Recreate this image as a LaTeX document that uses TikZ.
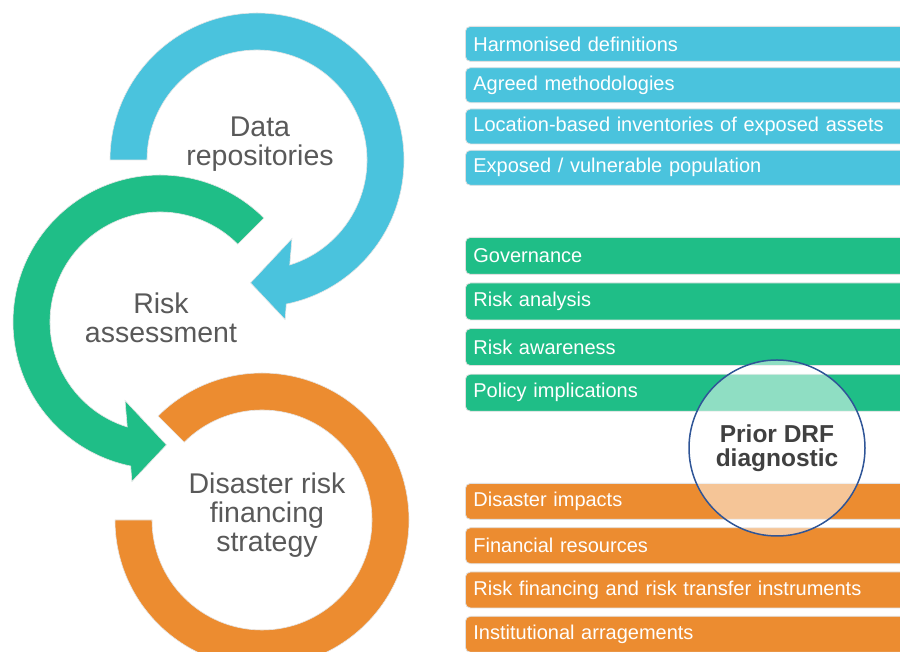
\documentclass[tikz,border=0pt]{standalone}
\usepackage{fontspec}
\setmainfont{Liberation Sans}
\usepackage{tikz}
\usetikzlibrary{positioning,calc}
\definecolor{drfblue}{RGB}{74,195,221}
\definecolor{drfgreen}{RGB}{31,190,135}
\definecolor{drforange}{RGB}{236,140,48}
\definecolor{drfgray}{RGB}{89,89,89}
\definecolor{drfnavy}{RGB}{47,85,151}
\tikzset{
    ring/.style={draw=black!10,line width=0.6pt},
    ringlabel/.style={text=drfgray,align=center,font=\fontsize{28.5}{29}\selectfont},
    bar/.style={draw=black!12,line width=0.8pt,rounded corners=5pt,
        minimum width=450pt,text width=434pt,inner xsep=8pt,align=left,
        text=white,font=\fontsize{20}{22}\selectfont},
    bluebar/.style={bar,fill=drfblue,minimum height=35pt},
    greenbar/.style={bar,fill=drfgreen,minimum height=37pt},
    orangebar/.style={bar,fill=drforange,minimum height=36pt}
}

\begin{document}
\begin{tikzpicture}[x=1pt,y=1pt]
    \useasboundingbox (0,0) rectangle (900,652);
    \coordinate (cdata) at (257,492);
    \coordinate (crisk) at (160,330);
    \coordinate (cstrat) at (262,132);

    % circular arrows
    \fill[drfblue] [ring,shift={(cdata)}] (180:147) arc[start angle=180,end angle=-78.5,radius=147]
        -- (-80:162) -- (-93:123) -- (-66:86)
        -- (-72.7:110) arc[start angle=-72.7,end angle=180,radius=110] -- cycle;
    \fill[drfgreen] [ring,shift={(crisk)}] (45:147) arc[start angle=45,end angle=258.5,radius=147]
        -- (260:162) -- (273:123) -- (246:86)
        -- (252.7:110) arc[start angle=252.7,end angle=45,radius=110] -- cycle;
    \fill[drforange] [ring,shift={(cstrat)}] (135:147) arc[start angle=135,end angle=-180,radius=147]
        -- (180:110) arc[start angle=-180,end angle=135,radius=110] -- cycle;

    \node[ringlabel] (datarepo) at (260,508) {Data\\repositories};
    \node[ringlabel] (riskassess) at (161,334) {Risk\\assessment};
    \node[ringlabel] (drfstrategy) at (267,137) {Disaster risk\\financing\\strategy};

    % data bars
    \node[bluebar,anchor=north west] (hdef) at (465,626) {Harmonised definitions};
    \node[bluebar,below=5.5pt of hdef] (amethod) {Agreed methodologies};
    \node[bluebar,below=5.5pt of amethod] (inventory) {Location-based inventories of exposed assets};
    \node[bluebar,below=5.5pt of inventory] (exposed) {Exposed / vulnerable population};

    % assessment bars
    \node[greenbar,anchor=north west] (govern) at (465,415) {Governance};
    \node[greenbar,below=7.8pt of govern] (ranalysis) {Risk analysis};
    \node[greenbar,below=7.8pt of ranalysis] (rawareness) {Risk awareness};
    \node[greenbar,below=7.8pt of rawareness] (policy) {Policy implications};

    % strategy bars
    \node[orangebar,anchor=north west] (impacts) at (465,169) {Disaster impacts};
    \node[orangebar,below=7.5pt of impacts] (finres) {Financial resources};
    \node[orangebar,below=7.5pt of finres] (transfer) {Risk financing and risk transfer instruments};
    \node[orangebar,below=7.5pt of transfer] (instit) {Institutional arragements};

    \node[circle,draw=drfnavy,line width=1.5pt,fill=white,fill opacity=0.5,text opacity=1,
        minimum size=176pt,align=center,text=black!75,
        font=\bfseries\fontsize{24.5}{24}\selectfont] (diag) at (777,204) {Prior DRF\\diagnostic};
\end{tikzpicture}
\end{document}
